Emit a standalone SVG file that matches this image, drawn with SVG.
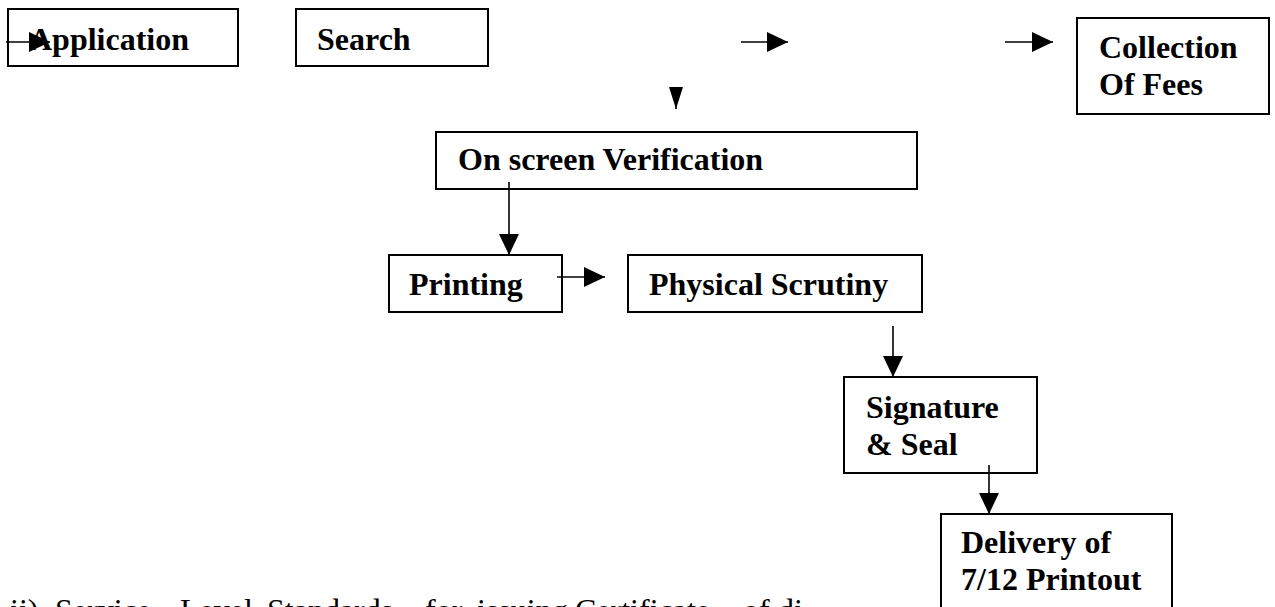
<svg xmlns="http://www.w3.org/2000/svg" width="1275" height="607" viewBox="0 0 1275 607">
<style>
.box{fill:#fff;stroke:#000;stroke-width:2}
.lbl{font-family:"Liberation Serif","Times New Roman",serif;font-weight:bold;font-size:32px;fill:#000}
.con{stroke:#000;stroke-width:1.6;fill:none}
.body{font-family:"Liberation Serif","Times New Roman",serif;font-size:32px;fill:#000}
</style>
<defs>
<marker id="ah" markerUnits="userSpaceOnUse" markerWidth="21" markerHeight="20" refX="21" refY="10" orient="auto">
<path d="M0,0 L21,10 L0,20 z" fill="#000"/>
</marker>
<marker id="ahn" markerUnits="userSpaceOnUse" markerWidth="22" markerHeight="16" refX="22" refY="8" orient="auto">
<path d="M0,1 L22,8 L0,15 z" fill="#000"/>
</marker>
</defs>
<rect width="1275" height="607" fill="#fff"/>

<g id="application">
<rect class="box" x="8" y="9" width="230" height="57"/>
<text class="lbl" x="29" y="50">Application</text>
</g>
<g id="search">
<rect class="box" x="296" y="9" width="192" height="57"/>
<text class="lbl" x="317" y="50">Search</text>
</g>
<g id="collection">
<rect class="box" x="1077" y="18" width="192" height="96"/>
<text class="lbl" x="1099" y="58">Collection</text>
<text class="lbl" x="1099" y="95">Of Fees</text>
</g>
<g id="verification">
<rect class="box" x="436" y="132" width="481" height="57"/>
<text class="lbl" x="458" y="170">On screen Verification</text>
</g>
<g id="printing">
<rect class="box" x="389" y="255" width="173" height="57"/>
<text class="lbl" x="409" y="295">Printing</text>
</g>
<g id="scrutiny">
<rect class="box" x="628" y="255" width="294" height="57"/>
<text class="lbl" x="649" y="295">Physical Scrutiny</text>
</g>
<g id="signature">
<rect class="box" x="844" y="377" width="193" height="96"/>
<text class="lbl" x="866" y="418">Signature</text>
<text class="lbl" x="866" y="455">&amp; Seal</text>
</g>
<g id="delivery">
<rect class="box" x="941" y="514" width="231" height="110"/>
<text class="lbl" x="961" y="553">Delivery of</text>
<text class="lbl" x="961" y="590">7/12 Printout</text>
</g>

<g id="connectors">
<line class="con" x1="6" y1="42" x2="50" y2="42" marker-end="url(#ah)"/>
<line class="con" x1="741" y1="42" x2="788" y2="42" marker-end="url(#ah)"/>
<line class="con" x1="1005" y1="42" x2="1053" y2="42" marker-end="url(#ah)"/>
<line class="con" x1="676" y1="87" x2="676" y2="109" marker-end="url(#ahn)"/>
<line class="con" x1="509" y1="182" x2="509" y2="255" marker-end="url(#ah)"/>
<line class="con" x1="557" y1="277" x2="605" y2="277" marker-end="url(#ah)"/>
<line class="con" x1="893" y1="326" x2="893" y2="377" marker-end="url(#ah)"/>
<line class="con" x1="989" y1="465" x2="989" y2="514" marker-end="url(#ah)"/>
</g>

<text class="body" y="621"><tspan x="10">ii)</tspan><tspan x="55">Service</tspan><tspan x="180">Level</tspan><tspan x="267">Standards</tspan><tspan x="425">for</tspan><tspan x="477">issuing</tspan><tspan x="575">Certificate</tspan><tspan x="743">of</tspan><tspan x="778">di</tspan></text>
</svg>
